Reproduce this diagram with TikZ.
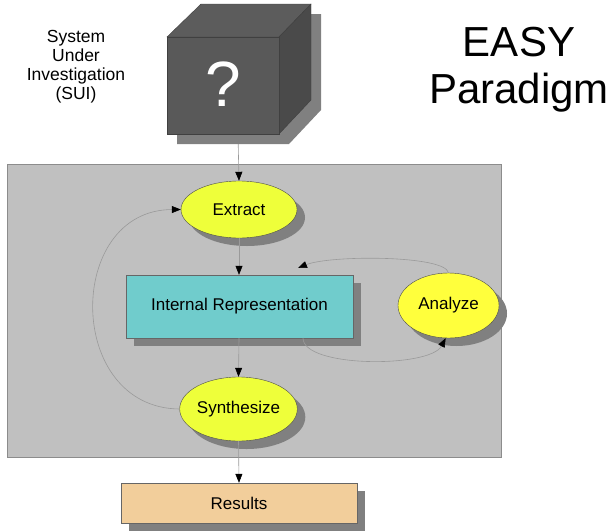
\documentclass[tikz,border=0pt]{standalone}
\usepackage{fontspec}
\setmainfont{Liberation Sans}
\usetikzlibrary{shapes.geometric,shadows,arrows.meta}
\definecolor{panelgray}{HTML}{C0C0C0}
\definecolor{shadowgray}{HTML}{808080}
\definecolor{linegray}{HTML}{9A9A9A}
\definecolor{ovalgreen}{HTML}{EEFF3A}
\definecolor{ovalyellow}{HTML}{FFFF3C}
\definecolor{reprteal}{HTML}{70CCCC}
\definecolor{resultpeach}{HTML}{F2CE9B}
\begin{document}
\begin{tikzpicture}[x=1pt,y=-1pt,
  font=\fontsize{17}{19}\selectfont,
  dropped/.style={drop shadow={shadow xshift=8pt,shadow yshift=-8pt,fill=shadowgray,opacity=1}},
  oval node/.style={ellipse,draw=black!70,inner sep=0pt,dropped},
  box node/.style={rectangle,draw=black!60,inner sep=0pt,dropped},
  flow/.style={draw=linegray,line width=0.6pt,-{Triangle[length=9pt,width=7pt,color=black]}}]%
  \useasboundingbox (0,0) rectangle (609,530);
  % gray working area
  \node[rectangle,fill=panelgray,draw=black!45,minimum width=494pt,minimum height=293pt] (panel) at (254,310.5) {};
  % titles
  \node[align=center,font=\fontsize{17.5}{19}\selectfont] (sui) at (76,67) {System\\Under\\Investigation\\(SUI)};
  \node[align=center,font=\fontsize{42}{47}\selectfont] (title) at (519,70) {EASY\\Paradigm};
  % process nodes
  \node[oval node,fill=ovalgreen,minimum width=116pt,minimum height=57pt] (extract) at (239,209.5) {Extract};
  \node[box node,fill=reprteal,minimum width=227pt,minimum height=63pt] (repr) at (239.5,306.5) {\raisebox{-2pt}{Internal Representation}};
  \node[oval node,fill=ovalyellow,minimum width=101pt,minimum height=65pt] (analyze) at (448.5,305.5) {Analyze};
  \node[oval node,fill=ovalgreen,minimum width=107pt,minimum height=64pt] (synth) at (238.5,409) {Synthesize};
  \node[box node,fill=resultpeach,minimum width=236pt,minimum height=40pt] (results) at (239,503) {Results};
  \coordinate (cube) at (238,134);
  \coordinate (reprout) at (303,338);
  \coordinate (reprin) at (298,268);
  % connectors
  \draw[flow] (cube) -- (extract.north);
  \draw[flow] (extract.south) -- (repr.north -| extract.south);
  \draw[flow] (repr.south -| extract.south) -- (synth.north);
  \draw[flow] (synth.south) -- (results.north);
  \draw[flow] (synth.west) .. controls (65,408) and (65,210) .. (extract.west);
  \draw[flow] (reprout) .. controls (303,368) and (430,368) .. (analyze.-95);
  \draw[flow] (analyze.north) .. controls (445,255) and (330,255) .. (reprin);
  % the black box
  \fill[shadowgray] (177,47) -- (211,14) -- (321,14) -- (321,110) -- (289,144) -- (177,144) -- cycle;
  \filldraw[fill=black!64,draw=black!75] (167,37) -- (201,4) -- (311,4) -- (279,37) -- cycle;
  \filldraw[fill=black!71,draw=black!75] (279,37) -- (311,4) -- (311,100) -- (279,134) -- cycle;
  \filldraw[fill=black!65,draw=black!75] (167,37) rectangle (279,134);
  \node[text=white,font=\fontsize{64}{64}\selectfont] (qmark) at (223,84) {?};
\end{tikzpicture}
\end{document}
